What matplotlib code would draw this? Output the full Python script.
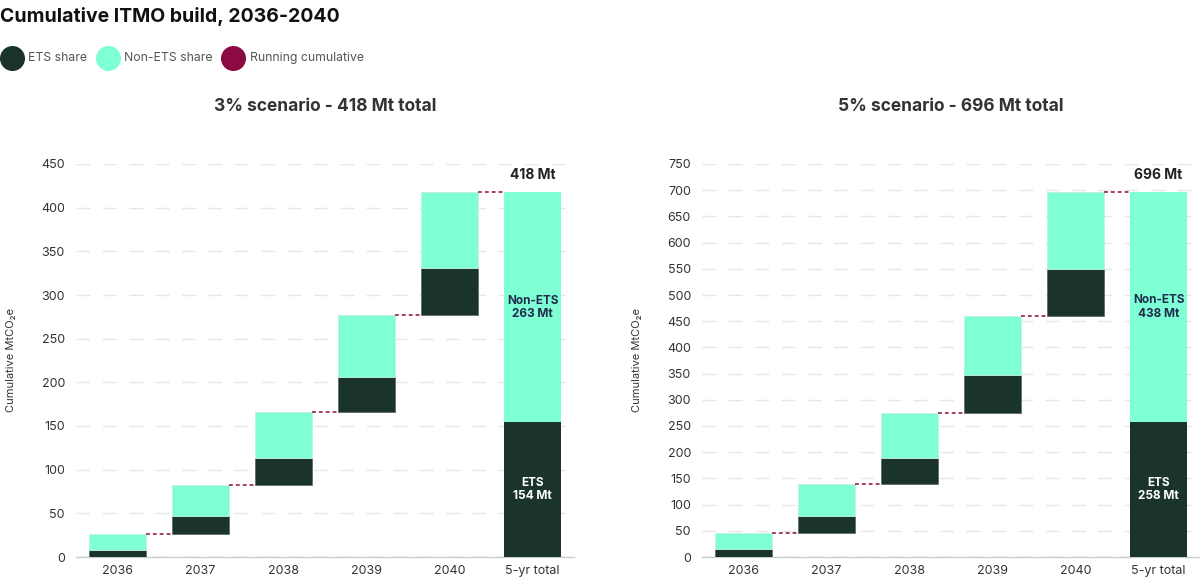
import numpy as np
import matplotlib
matplotlib.use('Agg')
import matplotlib.pyplot as plt
from matplotlib.lines import Line2D

plt.rcParams['font.family'] = ['Inter', 'DejaVu Sans']

# data
years = ['2036', '2037', '2038', '2039', '2040']
total_label = '5-yr total'

ets_3 = [8.3, 20.2, 31.2, 40.0, 54.6]
non_ets_3 = [18.3, 35.8, 52.8, 70.1, 86.4]

ets_5 = [15.3, 32.0, 50.2, 71.0, 89.5]
non_ets_5 = [30.0, 62.3, 85.6, 113.5, 146.6]

scenarios = [
    ('3%', ets_3, non_ets_3, 450, 50),
    ('5%', ets_5, non_ets_5, 750, 50),
]

ETS_COL = '#1a332b'
NON_COL = '#7fffd4'
RUN_COL = '#8b0a42'
TXT = '#333333'

fig = plt.figure(figsize=(12, 5.8), dpi=100)

fig.text(0.0, 0.972, 'Cumulative ITMO build, 2036-2040', fontsize=14,
         fontweight='bold', color='#111111', va='center', ha='left')

# legend drawn in figure coords
leg = [('ETS share', ETS_COL, 12, 28), ('Non-ETS share', NON_COL, 108, 124),
       ('Running cumulative', RUN_COL, 233, 250)]
for lab, col, cx, tx in leg:
    fig.add_artist(Line2D([cx / 1200], [1 - 58 / 580], marker='o', markersize=17,
                          color=col, linestyle='none', transform=fig.transFigure))
    fig.text(tx / 1200, 1 - 58 / 580, lab, fontsize=8.8, color='#555555',
             va='center', ha='left')

ax_pos = [[76 / 1200, 23 / 580, 498 / 1200, 393 / 580],
          [702 / 1200, 23 / 580, 498 / 1200, 393 / 580]]

width = 0.675
for (name, ets, non, ymax, step), pos in zip(scenarios, ax_pos):
    ax = fig.add_axes(pos)
    ets = np.array(ets)
    non = np.array(non)
    inc = ets + non
    tops = np.cumsum(inc)
    bases = tops - inc
    x = np.arange(len(years))

    ets_tot = ets.sum()
    non_tot = non.sum()
    total = ets_tot + non_tot

    ax.bar(x, ets, bottom=bases, width=width, color=ETS_COL,
           edgecolor='#5f6f6a', linewidth=0.6, zorder=3)
    ax.bar(x, non, bottom=bases + ets, width=width, color=NON_COL,
           edgecolor='#c5efe1', linewidth=0.6, zorder=3)

    xt = len(years)
    ax.bar(xt, ets_tot, width=width, color=ETS_COL, zorder=3)
    ax.bar(xt, non_tot, bottom=ets_tot, width=width, color=NON_COL, zorder=3)

    # running cumulative connectors
    for i in range(len(years)):
        ax.plot([i + width / 2, i + 1 - width / 2], [tops[i], tops[i]],
                color=RUN_COL, linestyle=(0, (2.5, 2)), linewidth=1.1, zorder=4)

    ax.text(xt, total + ymax * 0.025, f'{total:.0f} Mt', ha='center', va='bottom',
            fontsize=10, fontweight='bold', color='#222222')
    ax.text(xt, ets_tot + non_tot / 2, f'Non-ETS\n{non_tot:.0f} Mt', ha='center',
            va='center', fontsize=8.5, fontweight='bold', color='#1f2d4f',
            linespacing=1.15, zorder=5)
    ax.text(xt, ets_tot / 2, f'ETS\n{ets_tot:.0f} Mt', ha='center', va='center',
            fontsize=8.5, fontweight='bold', color='white', linespacing=1.15, zorder=5)

    ax.set_xlim(-0.5, len(years) + 0.5)
    ax.set_ylim(0, ymax)
    ax.set_yticks(np.arange(0, ymax + 1, step))
    ax.set_xticks(list(x) + [xt])
    ax.set_xticklabels(years + [total_label])
    ax.tick_params(axis='both', length=0, labelsize=9, labelcolor=TXT)
    ax.tick_params(axis='y', pad=8)
    ax.tick_params(axis='x', pad=6)

    ax.yaxis.grid(True, color='#e6e6e6', linestyle=(0, (10, 9)), linewidth=1)
    ax.set_axisbelow(True)
    for s in ['top', 'right', 'left']:
        ax.spines[s].set_visible(False)
    ax.spines['bottom'].set_color('#c9ccd6')
    ax.spines['bottom'].set_linewidth(1)

    ax.set_ylabel('Cumulative MtCO₂e', fontsize=8, color=TXT)
    ax.yaxis.set_label_coords(-0.12, 0.5)

    ax.set_title(f'{name} scenario - {total:.0f} Mt total', fontsize=12.5,
                 fontweight='bold', color=TXT, pad=38)

fig.savefig('out.png', dpi=100)
